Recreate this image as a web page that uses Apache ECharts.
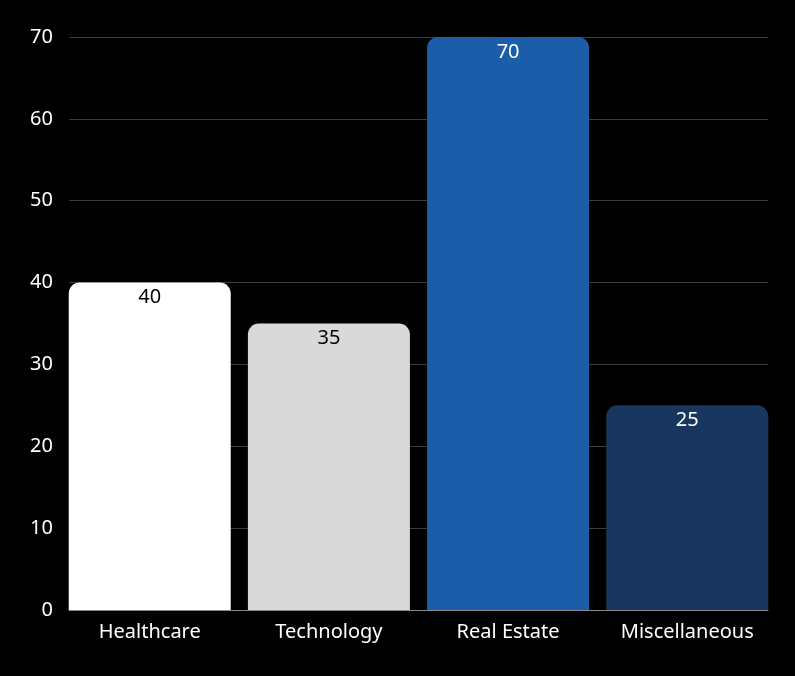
<!DOCTYPE html>
<html><head><meta charset="utf-8">
<script src="https://cdn.jsdelivr.net/npm/echarts@6/dist/echarts.min.js"></script>
<style>html,body{margin:0;padding:0;background:#000}#c{width:795px;height:676px}</style>
</head><body><div id="c"></div>
<script>
var categories = ['Healthcare', 'Technology', 'Real Estate', 'Miscellaneous'];
var values = [40, 35, 70, 25];
var barColors = ['#ffffff', '#d9d9d9', '#1c5daa', '#19375e'];
var labelColors = ['#000000', '#000000', '#ffffff', '#ffffff'];
var yTicks = [0, 10, 20, 30, 40, 50, 60, 70];

var font = '"Noto Sans", "Open Sans", sans-serif';
var chart = echarts.init(document.getElementById('c'));
chart.setOption({
  backgroundColor: '#000',
  animation: false,
  grid: [
    {left: 69, right: 27, top: 37, bottom: 66},
    {left: 60.15, right: 18.15, top: 37, bottom: 66}
  ],
  xAxis: [
    {type: 'category', gridIndex: 0, data: categories,
     axisLine: {show: true, lineStyle: {color: '#888', width: 1}},
     axisTick: {show: false}, axisLabel: {show: false}},
    {type: 'category', gridIndex: 1, data: categories,
     axisLine: {show: false}, axisTick: {show: false},
     axisLabel: {color: '#fff', fontSize: 20, fontFamily: font, margin: 12}}
  ],
  yAxis: [
    {type: 'value', gridIndex: 0, min: yTicks[0], max: yTicks[yTicks.length - 1], interval: 10,
     axisLine: {show: false}, axisTick: {show: false},
     axisLabel: {color: '#fff', fontSize: 20, fontFamily: font, margin: 16},
     splitLine: {lineStyle: {color: '#3c3c3c', width: 1}}},
    {type: 'value', gridIndex: 1, min: yTicks[0], max: yTicks[yTicks.length - 1], interval: 10,
     axisLine: {show: false}, axisTick: {show: false}, axisLabel: {show: false},
     splitLine: {show: false}}
  ],
  series: [{
    type: 'bar', xAxisIndex: 1, yAxisIndex: 1,
    barWidth: 162,
    data: values.map(function (v, i) {
      return {value: v,
        itemStyle: {color: barColors[i], borderRadius: [11, 11, 0, 0]},
        label: {color: labelColors[i]}};
    }),
    label: {show: true, position: 'insideTop', distance: 5, fontSize: 20, fontFamily: font}
  }]
});
</script></body></html>
